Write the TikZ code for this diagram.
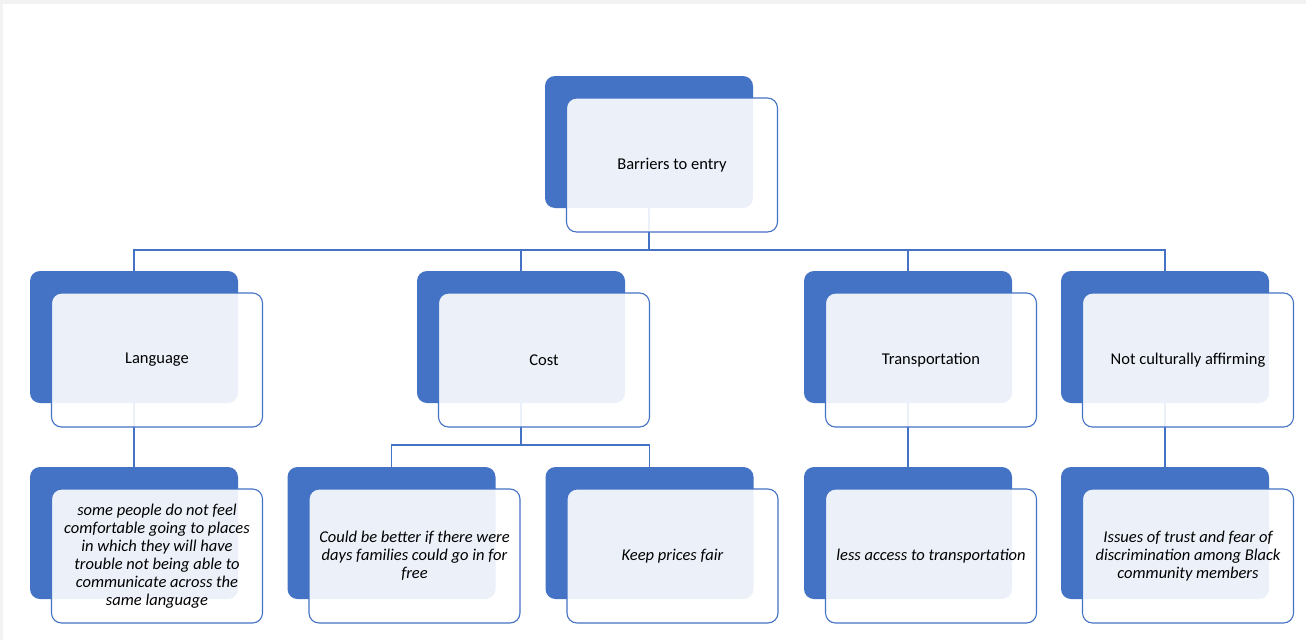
\documentclass[tikz,border=0pt]{standalone}
\usepackage{fontspec}
\setmainfont{Carlito}
\usetikzlibrary{positioning,calc}
\definecolor{accent}{RGB}{68,114,196}

\begin{document}
\begin{tikzpicture}
    [x=1pt,y=-1pt,
     back/.style={fill=accent,rounded corners=10pt,minimum width=208pt,minimum height=132pt,inner sep=0pt},
     front/.style={draw=accent,line width=1.1pt,fill=white,fill opacity=0.9,text opacity=1,rounded corners=10pt,minimum width=211pt,minimum height=134pt,inner sep=0pt,align=center,font=\fontsize{16.5}{18}\selectfont},
     detail/.style={front,font=\fontsize{16.5}{18}\selectfont\itshape},
     link/.style={draw=accent,line width=1.3pt}]
    % Page
    \useasboundingbox (0,0) rectangle (1306,640);
    \fill [black!5] (0,0) rectangle (1306,640);
    \fill [white] (3,4) rectangle (1306,640);

    % Back plates
    \node (topb) at (649,142) [back] {};
    \node (langb) at (134,337) [back] {};
    \node (costb) at (521,337) [back] {};
    \node (tranb) at (908,337) [back] {};
    \node (cultb) at (1165,337) [back] {};
    \node (speakb) at (134,533) [back] {};
    \node (freeb) at (391.5,533) [back] {};
    \node (fairb) at (649.5,533) [back] {};
    \node (accessb) at (908,533) [back] {};
    \node (trustb) at (1165,533) [back] {};

    % Connectors
    \coordinate (bus) at (649,250);
    \draw [link] (topb.south) -- (bus);
    \draw [link] (bus) -| (langb.north);
    \draw [link] (bus) -| (costb.north);
    \draw [link] (bus) -| (tranb.north);
    \draw [link] (bus) -| (cultb.north);
    \draw [link] (langb.south) -- (speakb.north);
    \coordinate (costbus) at (521,445);
    \draw [link] (costb.south) -- (costbus);
    \draw [link] (costbus) -| (freeb.north);
    \draw [link] (costbus) -| (fairb.north);
    \draw [link] (tranb.south) -- (accessb.north);
    \draw [link] (cultb.south) -- (trustb.north);

    % Front plates
    \node (topf) at (topb) [front, xshift=23pt, yshift=-23pt] {Barriers to entry};
    \node (langf) at (langb) [front, xshift=23pt, yshift=-23pt] {Language};
    \node (costf) at (costb) [front, xshift=23pt, yshift=-23pt] {Cost};
    \node (tranf) at (tranb) [front, xshift=23pt, yshift=-23pt] {Transportation};
    \node (cultf) at (cultb) [front, xshift=23pt, yshift=-23pt] {Not culturally affirming};
    \node (speakf) at (speakb) [detail, xshift=23pt, yshift=-23pt]
    {some people do not feel\\comfortable going to places\\in which they will have\\trouble not being able to\\communicate across the\\same language};
    \node (freef) at (freeb) [detail, xshift=23pt, yshift=-23pt]
    {Could be better if there were\\days families could go in for\\free};
    \node (fairf) at (fairb) [detail, xshift=23pt, yshift=-23pt] {Keep prices fair};
    \node (accessf) at (accessb) [detail, xshift=23pt, yshift=-23pt] {less access to transportation};
    \node (trustf) at (trustb) [detail, xshift=23pt, yshift=-23pt]
    {Issues of trust and fear of\\discrimination among Black\\community members};
\end{tikzpicture}
\end{document}
